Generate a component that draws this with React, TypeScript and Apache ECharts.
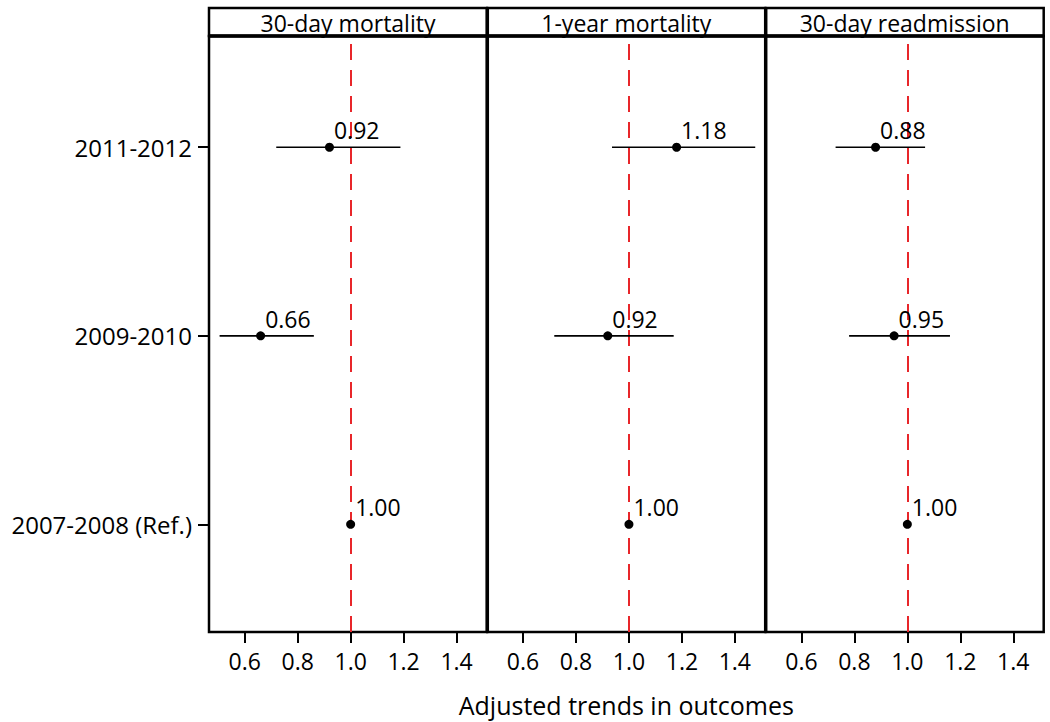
import React, { useEffect, useRef } from "react";
import * as echarts from "echarts";

const categories = ["2007-2008 (Ref.)", "2009-2010", "2011-2012"];
const panelTitles = ["30-day mortality", "1-year mortality", "30-day readmission"];
const xTicks = [0.6, 0.8, 1.0, 1.2, 1.4];
const axisTitle = "Adjusted trends in outcomes";

const mort30Est = [1.0, 0.66, 0.92];
const mort30Lo = [null, 0.505, 0.719];
const mort30Hi = [null, 0.861, 1.188];

const mort1yEst = [1.0, 0.92, 1.18];
const mort1yLo = [null, 0.718, 0.936];
const mort1yHi = [null, 1.169, 1.477];

const readm30Est = [1.0, 0.95, 0.88];
const readm30Lo = [null, 0.78, 0.729];
const readm30Hi = [null, 1.161, 1.067];

const panelData = [
  { est: mort30Est, lo: mort30Lo, hi: mort30Hi },
  { est: mort1yEst, lo: mort1yLo, hi: mort1yHi },
  { est: readm30Est, lo: readm30Lo, hi: readm30Hi },
];

const FONT = "'Open Sans', 'Noto Sans', sans-serif";
const PANEL_LEFT = [209, 487.3, 765.7];
const PANEL_W = 278;
const GRID_TOP = 36;
const GRID_BOTTOM = 632;
const HEADER_TOP = 8;

export default function App() {
  const ref = useRef<HTMLDivElement>(null);
  useEffect(() => {
    if (!ref.current) return;
    const chart = echarts.init(ref.current, null, { renderer: "svg" });

    const grids = PANEL_LEFT.map((l) => ({
      left: l,
      width: PANEL_W,
      top: GRID_TOP,
      height: GRID_BOTTOM - GRID_TOP,
      show: true,
      borderColor: "#000",
      borderWidth: 2.5,
      backgroundColor: "transparent",
      containLabel: false,
    }));

    const xAxes = PANEL_LEFT.map((_, i) => ({
      type: "value",
      gridIndex: i,
      position: "bottom",
      min: 0.465,
      max: 1.515,
      splitLine: { show: false },
      axisLine: { show: false, onZero: false },
      axisTick: {
        show: true,
        length: 11,
        customValues: xTicks,
        lineStyle: { color: "#000", width: 2 },
      },
      axisLabel: {
        customValues: xTicks,
        formatter: (v: number) => v.toFixed(1),
        color: "#000",
        fontFamily: FONT,
        fontSize: 23,
        margin: 17,
      },
      ...(i === 1
        ? {
            name: axisTitle,
            nameLocation: "middle",
            nameGap: 60,
            nameTextStyle: { color: "#000", fontFamily: FONT, fontSize: 25 },
          }
        : {}),
    }));

    const yAxes = PANEL_LEFT.map((_, i) => ({
      type: "value",
      gridIndex: i,
      position: "left",
      min: -0.571,
      max: 2.59,
      splitLine: { show: false },
      axisLine: { show: false, onZero: false },
      axisTick: {
        show: i === 0,
        length: 11,
        customValues: [0, 1, 2],
        lineStyle: { color: "#000", width: 2 },
      },
      axisLabel: {
        show: i === 0,
        customValues: [0, 1, 2],
        formatter: (v: number) => categories[Math.round(v)] ?? "",
        color: "#000",
        fontFamily: FONT,
        fontSize: 24,
        margin: 17,
      },
    }));

    const series: any[] = [];
    panelData.forEach((p, i) => {
      const ciData = p.est
        .map((_, k) => (p.lo[k] != null ? [p.lo[k], p.hi[k], k] : null))
        .filter((d) => d !== null);
      series.push({
        type: "custom",
        xAxisIndex: i,
        yAxisIndex: i,
        data: ciData,
        encode: { x: [0, 1], y: 2 },
        renderItem: (params: any, api: any) => {
          const a = api.coord([api.value(0), api.value(2)]);
          const b = api.coord([api.value(1), api.value(2)]);
          return {
            type: "line",
            shape: { x1: a[0], y1: a[1], x2: b[0], y2: b[1] },
            style: { stroke: "#000", lineWidth: 1.7 },
          };
        },
        z: 3,
      });
      series.push({
        type: "scatter",
        xAxisIndex: i,
        yAxisIndex: i,
        data: p.est.map((v, k) => [v, k]),
        symbol: "circle",
        symbolSize: 9,
        itemStyle: { color: "#000", opacity: 1 },
        z: 4,
        label: {
          show: true,
          position: [9, -1],
          align: "left",
          verticalAlign: "bottom",
          formatter: (prm: any) => prm.value[0].toFixed(2),
          color: "#000",
          opacity: 1,
          fontFamily: FONT,
          fontSize: 23,
        },
        markLine: {
          silent: true,
          symbol: "none",
          animation: false,
          label: { show: false },
          lineStyle: { color: "#e8262a", type: [16, 10], width: 2 },
          data: [{ xAxis: 1 }],
          z: 2,
        },
      });
    });

    const graphics: any[] = [];
    PANEL_LEFT.forEach((l, i) => {
      graphics.push({
        type: "rect",
        shape: { x: l, y: HEADER_TOP, width: PANEL_W, height: GRID_TOP - HEADER_TOP },
        style: { fill: "none", stroke: "#000", lineWidth: 2.5 },
        z: 10,
      });
      graphics.push({
        type: "text",
        x: l + PANEL_W / 2,
        y: (HEADER_TOP + GRID_TOP) / 2 + 1,
        style: {
          text: panelTitles[i],
          fill: "#000",
          font: `23px ${FONT}`,
          textAlign: "center",
          textVerticalAlign: "middle",
        },
        z: 10,
      });
    });
    [487.3, 765.7].forEach((x) => {
      graphics.push({
        type: "line",
        shape: { x1: x, y1: HEADER_TOP, x2: x, y2: GRID_BOTTOM },
        style: { stroke: "#000", lineWidth: 3.5 },
        z: 11,
      });
    });
    graphics.push({
      type: "line",
      shape: { x1: PANEL_LEFT[0], y1: GRID_TOP, x2: PANEL_LEFT[2] + PANEL_W, y2: GRID_TOP },
      style: { stroke: "#000", lineWidth: 3.5 },
      z: 11,
    });

    chart.setOption({
      animation: false,
      backgroundColor: "#fff",
      grid: grids,
      xAxis: xAxes,
      yAxis: yAxes,
      series,
      graphic: graphics,
    });
    return () => chart.dispose();
  }, []);

  return (
    <div
      ref={ref}
      style={{ position: "fixed", left: 0, top: 0, width: 1050, height: 722 }}
    />
  );
}
